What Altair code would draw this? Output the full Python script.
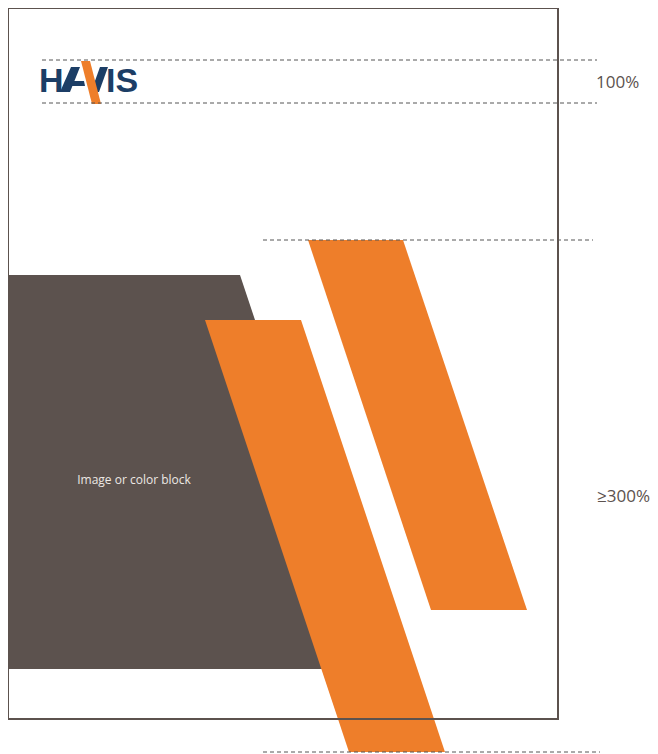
import altair as alt

# ---- shape data (page pixel coordinates) ----
frame_pts = [[8, 8], [558, 8], [558, 719], [8, 719], [8, 8]]
block_pts = [[7, 275], [240, 275], [371, 669], [7, 669], [7, 275]]
stripe_a = [[205, 320], [301, 320], [445, 752], [349, 752], [205, 320]]
stripe_b = [[308, 240], [403, 240], [527, 610], [431, 610], [308, 240]]

logo_a_leg = [[60, 92], [70, 92], [80, 67], [71, 67], [60, 92]]
logo_a_bar = [[66, 86], [85, 86], [84, 81], [68, 81], [66, 86]]
logo_v_leg = [[91, 92], [99, 92], [108, 67], [100, 67], [91, 92]]
logo_slash = [[81, 61], [90, 61], [101, 104], [92, 104], [81, 61]]

dash_lines = [
    [[42, 60], [597, 60]],
    [[42, 103], [597, 103]],
    [[263, 240], [593, 240]],
    [[263, 752], [600, 752]],
]

label_text = ["100%", "≥300%"]
label_x = [596, 597]
label_y = [83, 497]

block_text = ["Image or color block"]
block_x = [134]
block_y = [480]

logo_text = ["H", "IS"]
logo_x = [39, 106]
logo_y = [92, 92]

NAVY = "#1c3e66"
ORANGE = "#ee7e2a"
DARK = "#5c524e"

proj = dict(type="identity", scale=1, translate=[-8, -8])


def poly(pts_list):
    return alt.Data(values=[
        {"type": "Feature", "properties": {}, "geometry": {"type": "Polygon", "coordinates": [p]}}
        for p in pts_list
    ])


def lines(pts_list):
    return alt.Data(values=[
        {"type": "Feature", "properties": {}, "geometry": {"type": "LineString", "coordinates": p}}
        for p in pts_list
    ])


block = alt.Chart(poly([block_pts])).mark_geoshape(fill=DARK, strokeWidth=0).project(**proj)
stripes = alt.Chart(poly([stripe_a, stripe_b])).mark_geoshape(fill=ORANGE, strokeWidth=0).project(**proj)
logo_navy = alt.Chart(poly([logo_a_leg, logo_a_bar, logo_v_leg])).mark_geoshape(fill=NAVY, strokeWidth=0).project(**proj)
logo_orange = alt.Chart(poly([logo_slash])).mark_geoshape(fill=ORANGE, strokeWidth=0).project(**proj)
dashes = alt.Chart(lines(dash_lines)).mark_geoshape(
    filled=False, stroke="#555555", strokeWidth=1, strokeDash=[4, 3]
).project(**proj)
frame = alt.Chart(lines([frame_pts])).mark_geoshape(
    filled=False, stroke=DARK, strokeWidth=2
).project(**proj)

labels = alt.Chart(alt.Data(values=[
    {"t": t, "x": x, "y": y} for t, x, y in zip(label_text, label_x, label_y)
])).mark_text(
    align="left", baseline="middle", fontSize=17, font="Open Sans", color=DARK
).encode(longitude="x:Q", latitude="y:Q", text="t:N").project(**proj)

block_label = alt.Chart(alt.Data(values=[
    {"t": t, "x": x, "y": y} for t, x, y in zip(block_text, block_x, block_y)
])).mark_text(
    align="center", baseline="middle", fontSize=12, font="Open Sans", color="#ece8e4"
).encode(longitude="x:Q", latitude="y:Q", text="t:N").project(**proj)

logo_letters = alt.Chart(alt.Data(values=[
    {"t": t, "x": x, "y": y} for t, x, y in zip(logo_text, logo_x, logo_y)
])).mark_text(
    align="left", baseline="alphabetic", fontSize=34, font="Liberation Sans",
    fontWeight="bold", color=NAVY
).encode(longitude="x:Q", latitude="y:Q", text="t:N").project(**proj)

chart = alt.layer(
    block, stripes, logo_letters, logo_navy, logo_orange, dashes, frame, labels, block_label
).properties(
    width=642, height=746, padding=0, autosize=alt.AutoSizeParams(type="none")
).configure_view(stroke=None, fill="white").configure(background="white")

chart.save("out.html", embed_options={"renderer": "svg", "actions": False})
